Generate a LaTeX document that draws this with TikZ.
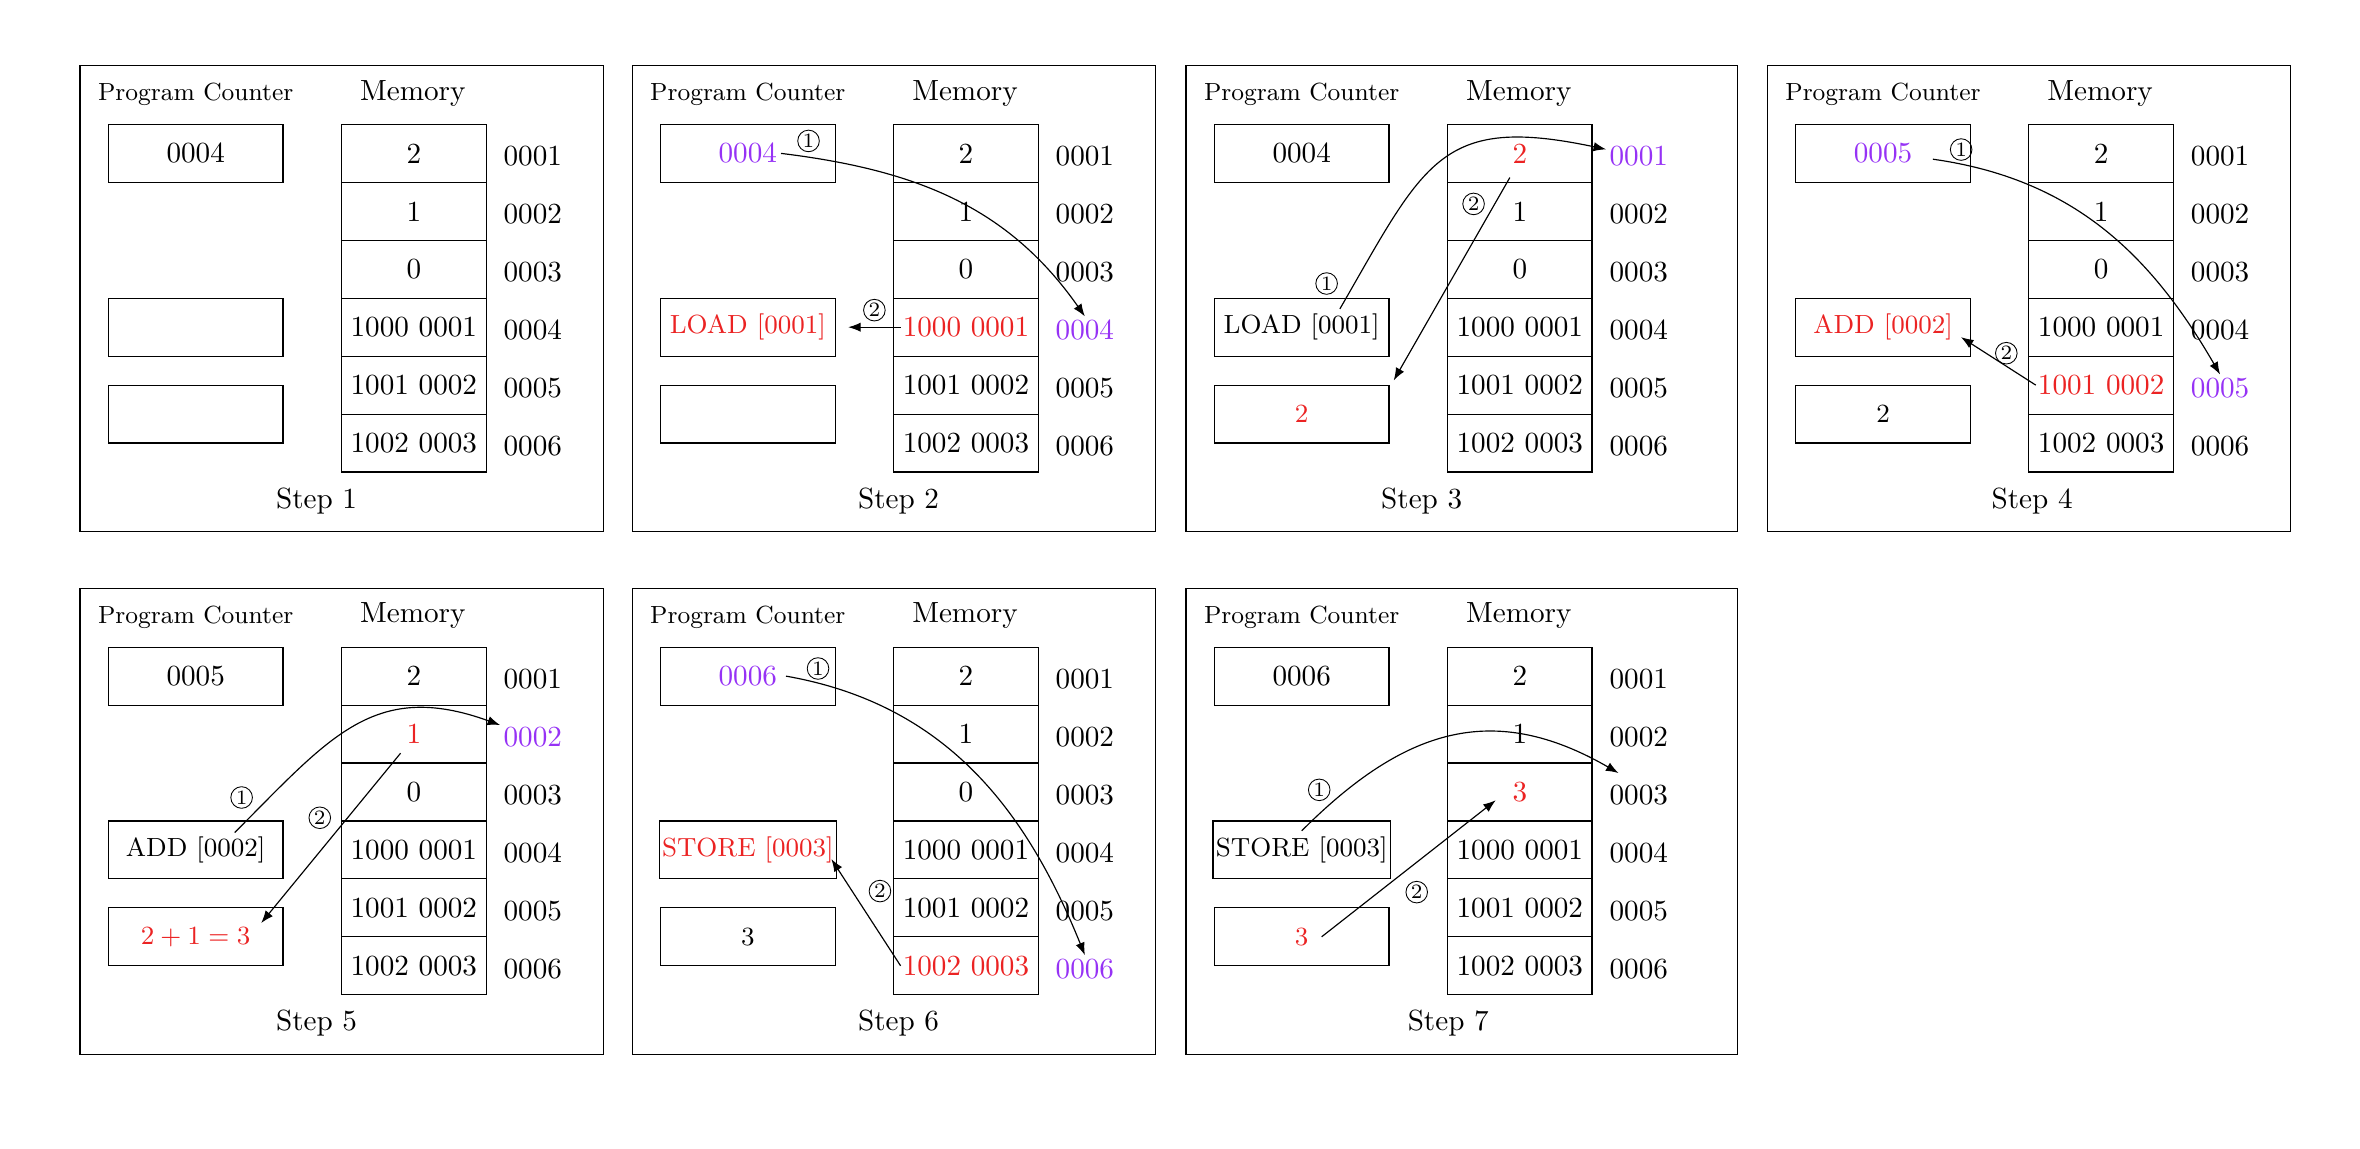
\documentclass[tikz,border=0pt]{standalone}
\usepackage{tikz}
\usetikzlibrary{arrows,arrows.meta,positioning,calc}
\usepackage{xcolor}

\definecolor{hlred}{RGB}{235,35,35}
\definecolor{hlpurple}{RGB}{150,50,245}

% one CPU snapshot: id, origin, frame width, step label x, PC, IR, ACC, memory, addresses
\newcommand{\cpupanel}[9]{%
  \begin{scope}[shift={(#2)}]
    \draw (0,0) rectangle (#3,-5.614);
    \node[font=\fontsize{8.5}{10}\selectfont] (pct#1) at (1.394,-0.35) {Program Counter};
    \node (memt#1) at (4.01,-0.33) {Memory};
    \node[reg] (pc#1) at (1.394,-1.056) {#5};
    \node[reg, font=\small] (ir#1) at (1.394,-3.150) {#6};
    \node[reg, font=\small] (acc#1) at (1.394,-4.197) {#7};
    \foreach \val [count=\row] in {#8}
      \node[cell] (m#1-\row) at (4.022,{-0.707-(\row-0.5)*0.698}) {\val};
    \foreach \adr [count=\row] in {#9}
      \node[addr] (a#1-\row) at (5.455,{-0.742-(\row-0.5)*0.698}) {\adr};
    \node (st#1) at (#4,-5.24) {Step #1};
  \end{scope}}

\begin{document}
\begin{tikzpicture}[
    reg/.style={
        draw,
        minimum width=2.104cm,
        minimum height=0.698cm,
        inner sep=1pt
    },
    cell/.style={
        draw,
        minimum width=1.741cm,
        minimum height=0.698cm,
        inner sep=1pt
    },
    addr/.style={inner sep=1pt},
    flow/.style={-{Latex[length=4.3pt,width=3.2pt]}},
    num/.style={
        circle,
        draw,
        line width=0.3pt,
        inner sep=0pt,
        minimum size=7.4pt,
        font=\scriptsize
    }
]

\useasboundingbox (0,0) rectangle (28.434,-13.843);

% -------- Panels --------
\cpupanel{1}{0.964,-0.792}{6.307}{2.85}{0004}{}{}%
  {2,1,0,1000 0001,1001 0002,1002 0003}%
  {0001,0002,0003,0004,0005,0006}
\cpupanel{2}{7.616,-0.792}{6.307}{3.21}{\textcolor{hlpurple}{0004}}{\textcolor{hlred}{LOAD [0001]}}{}%
  {2,1,0,{\textcolor{hlred}{1000 0001}},1001 0002,1002 0003}%
  {0001,0002,0003,{\textcolor{hlpurple}{0004}},0005,0006}
\cpupanel{3}{14.289,-0.792}{6.647}{2.84}{0004}{LOAD [0001]}{\textcolor{hlred}{2}}%
  {{\textcolor{hlred}{2}},1,0,1000 0001,1001 0002,1002 0003}%
  {{\textcolor{hlpurple}{0001}},0002,0003,0004,0005,0006}
\cpupanel{4}{21.293,-0.792}{6.307}{3.19}{\textcolor{hlpurple}{0005}}{\textcolor{hlred}{ADD [0002]}}{2}%
  {2,1,0,1000 0001,{\textcolor{hlred}{1001 0002}},1002 0003}%
  {0001,0002,0003,0004,{\textcolor{hlpurple}{0005}},0006}
\cpupanel{5}{0.964,-7.090}{6.307}{2.85}{0005}{ADD [0002]}{\textcolor{hlred}{$2+1=3$}}%
  {2,{\textcolor{hlred}{1}},0,1000 0001,1001 0002,1002 0003}%
  {0001,{\textcolor{hlpurple}{0002}},0003,0004,0005,0006}
\cpupanel{6}{7.616,-7.090}{6.307}{3.21}{\textcolor{hlpurple}{0006}}{\textcolor{hlred}{STORE [0003]}}{3}%
  {2,1,0,1000 0001,1001 0002,{\textcolor{hlred}{1002 0003}}}%
  {0001,0002,0003,0004,0005,{\textcolor{hlpurple}{0006}}}
\cpupanel{7}{14.289,-7.090}{6.647}{3.16}{0006}{STORE [0003]}{\textcolor{hlred}{3}}%
  {2,1,{\textcolor{hlred}{3}},1000 0001,1001 0002,1002 0003}%
  {0001,0002,0003,0004,0005,0006}

% -------- Step 2: fetch LOAD --------
\draw[flow] ([xshift=4mm]pc2.center) to[out=-7, in=125]
    node[num, pos=0.07, above=0.6mm] {1} (a2-4.north);
\draw[flow] ([xshift=0.9mm]m2-4.west) --
    node[num, above=0.7mm] {2} ([xshift=1.5mm]ir2.east);

% -------- Step 3: execute LOAD --------
\draw[flow] ([xshift=4.6mm,yshift=2.2mm]ir3.center) to[out=60, in=168, looseness=1.4]
    node[num, pos=0.06, left=2mm] {1} (a3-1);
\draw[flow] ([xshift=-1.2mm,yshift=0.65mm]m3-1.south) --
    node[num, pos=0.13, left=1.2mm] {2} ([xshift=0.5mm,yshift=0.5mm]acc3.north east);

% -------- Step 4: fetch ADD --------
\draw[flow] ([xshift=6mm,yshift=-0.7mm]pc4.center) to[out=-8, in=120]
    node[num, pos=0.07, above=0.4mm] {1} (a4-5.north);
\draw[flow] ([xshift=0.9mm]m4-5.west) --
    node[num, midway, above right] {2} ([xshift=-1.2mm,yshift=-1.2mm]ir4.east);

% -------- Step 5: execute ADD --------
\draw[flow] ([xshift=4.7mm,yshift=2.1mm]ir5.center) to[out=45, in=160, looseness=1.2]
    node[num, pos=0.13, left=2mm] {1} (a5-2);
\draw[flow] ([xshift=-1.6mm,yshift=1.25mm]m5-2.south) --
    node[num, pos=0.38, left=2mm] {2} ([xshift=-2.7mm,yshift=-1.9mm]acc5.north east);

% -------- Step 6: fetch STORE --------
\draw[flow] ([xshift=4.6mm]pc6.center) to[out=-10, in=112]
    node[num, pos=0.07, above=0.4mm] {1} (a6-6.north);
\draw[flow] ([xshift=0.9mm]m6-6.west) --
    node[num, pos=0.7, right=2mm] {2} ([xshift=-0.7mm,yshift=-1.1mm]ir6.east);

% -------- Step 7: execute STORE --------
\draw[flow] ([yshift=2.3mm]ir7.center) to[out=45, in=150, looseness=1.15]
    node[num, pos=0.15, left=2mm] {1} ([xshift=1.5mm,yshift=1mm]a7-3.north west);
\draw[flow] ([xshift=2.4mm]acc7.center) --
    node[num, pos=0.45, below right=1.5mm] {2} ([xshift=-2.9mm,yshift=-1mm]m7-3.center);

\end{tikzpicture}
\end{document}
